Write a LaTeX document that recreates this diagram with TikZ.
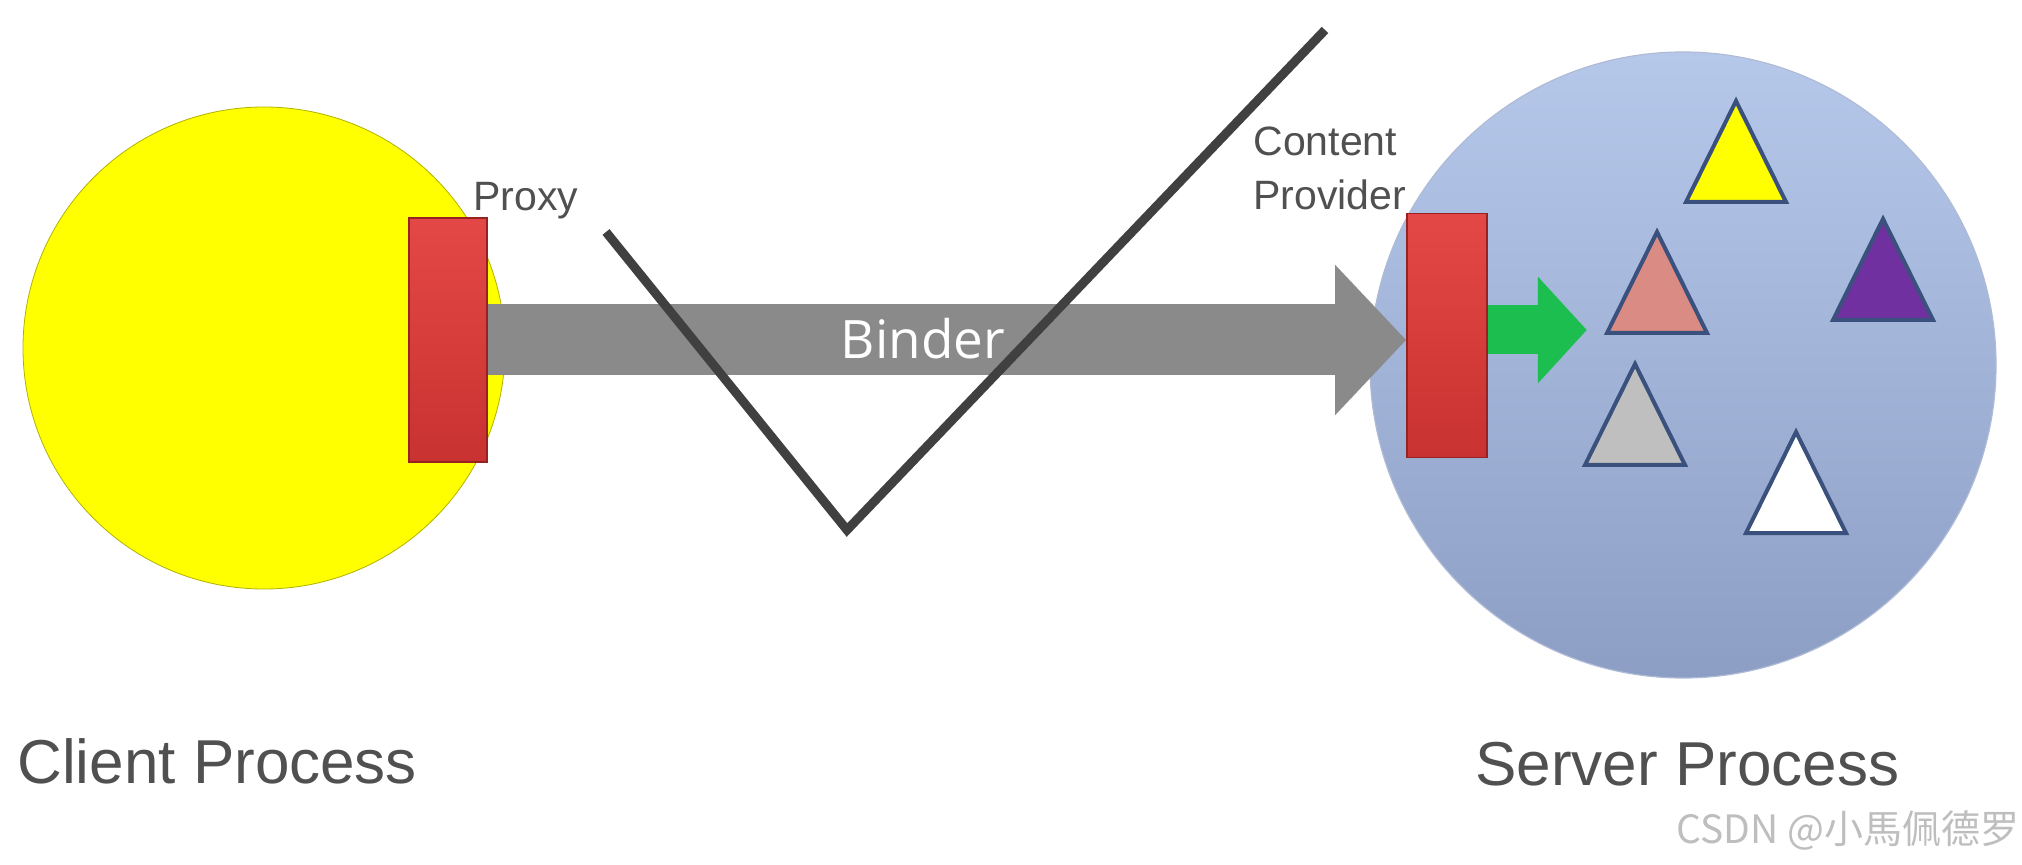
\documentclass[tikz,border=0pt]{standalone}
\usepackage{fontspec}
\setmainfont{Liberation Sans}
\newfontfamily\binderfont{Open Sans}
\newfontfamily\cjkfont{Noto Sans CJK SC}
\usetikzlibrary{arrows.meta}
\definecolor{procYellow}{RGB}{255,255,0}
\definecolor{serverTop}{RGB}{182,200,234}
\definecolor{serverBottom}{RGB}{140,158,196}
\definecolor{wallRed}{RGB}{200,50,48}
\definecolor{wallTop}{RGB}{228,72,70}
\definecolor{wallEdge}{RGB}{150,34,34}
\definecolor{binderGray}{RGB}{138,138,138}
\definecolor{passGreen}{RGB}{28,190,80}
\definecolor{triEdge}{RGB}{58,80,125}
\definecolor{triSalmon}{RGB}{218,140,132}
\definecolor{triPurple}{RGB}{112,48,160}
\definecolor{triGray}{RGB}{191,191,191}
\definecolor{labelGray}{RGB}{80,80,80}
\definecolor{markGray}{RGB}{64,64,64}
\definecolor{waterGray}{RGB}{190,190,190}

\begin{document}
\begin{tikzpicture}[x=0.5pt, y=-0.5pt,
    wall/.style={draw=wallEdge, line width=0.8pt, top color=wallTop, bottom color=wallRed,
      minimum width=39pt, minimum height=122pt, inner sep=0pt},
    binder/.style={draw=binderGray, line width=35.5pt, -{Triangle[length=35.5pt, width=73pt]}},
    pass/.style={draw=passGreen, line width=24.5pt, -{Triangle[length=24.5pt, width=52pt]}},
    tri/.style={draw=triEdge, line width=2pt, line join=miter},
    tagtext/.style={text=labelGray, font=\fontsize{20.5}{27}\selectfont, inner sep=0pt,
      align=left, anchor=base west},
    proctext/.style={text=labelGray, font=\fontsize{31}{36}\selectfont, inner sep=0pt,
      anchor=base west}]
  \useasboundingbox (0,0) rectangle (2022,865);
  \fill[white] (0,0) rectangle (2022,865);

  % the two processes
  \node[circle, minimum size=241pt, inner sep=0pt, fill=procYellow,
    draw=procYellow!70!black, line width=0.4pt] (client) at (264,348) {};
  \node[circle, minimum size=313pt, inner sep=0pt, top color=serverTop,
    bottom color=serverBottom, draw=serverBottom!70!white, line width=0.6pt] (server) at (1683,365) {};

  % proxy and provider walls
  \node[wall] (proxy) at (448,340) {};
  \node[wall, minimum width=40pt] (provider) at (1447,335.5) {};

  % binder channel
  \draw[binder] (proxy.east) -- (proxy.east -| provider.west);
  \node[text=white, font=\binderfont\fontsize{26.5}{30}\selectfont, inner sep=0pt] (binderlabel) at (923,339) {Binder};
  \draw[pass] ([yshift=2.75pt]provider.east) -- ++(99,0);

  % data inside the server
  \foreach \ax/\ay/\col in {1736/101/procYellow, 1657/232/triSalmon, 1883/219/triPurple,
      1635/364/triGray, 1796/432/white}
    \draw[tri, fill=\col] (\ax,\ay) -- ++(50,101) -- ++(-100,0) -- cycle;

  % check mark
  \draw[markGray, line width=4.5pt] (606,232) -- (847,530) -- (1325,30);

  % labels
  \node[tagtext] (proxylabel) at (473,211) {Proxy};
  \node[tagtext] (providerlabel) at (1253,210) {Content\\Provider};
  \node[proctext] (clientlabel) at (17,783) {Client Process};
  \node[proctext] (serverlabel) at (1475,785) {Server Process};
  \node[text=waterGray, font=\cjkfont\fontsize{19.5}{22}\selectfont, inner sep=0pt,
    anchor=base west] (watermark) at (1676,843) {CSDN @小馬佩德罗};
\end{tikzpicture}
\end{document}
